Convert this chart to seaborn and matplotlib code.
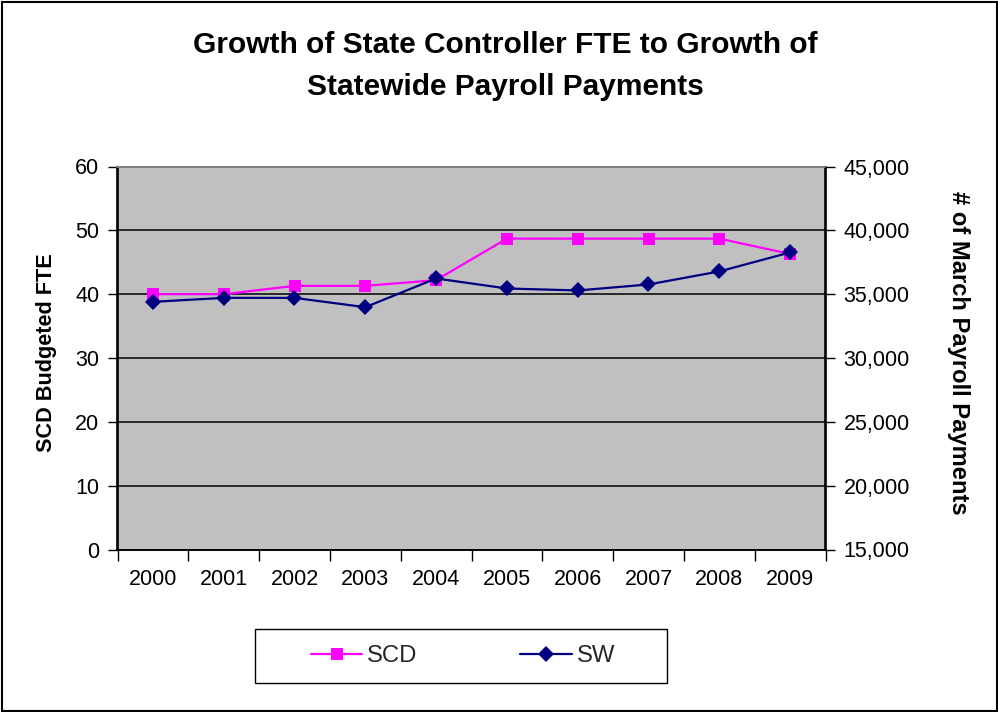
import matplotlib
matplotlib.use("Agg")
import matplotlib.pyplot as plt
from matplotlib.patches import Rectangle
from matplotlib.ticker import FixedLocator, FuncFormatter
from matplotlib.lines import Line2D
import seaborn as sns
import pandas as pd

years = ["2000", "2001", "2002", "2003", "2004", "2005", "2006", "2007", "2008", "2009"]
scd_fte = [40.0, 40.0, 41.3, 41.3, 42.2, 48.7, 48.7, 48.7, 48.7, 46.3]
sw_payments = [34400, 34710, 34710, 33980, 36230, 35445, 35290, 35760, 36780, 38270]

sns.set_theme(style="white")
plt.rcParams['font.family'] = ['Liberation Sans', 'DejaVu Sans']

df = pd.DataFrame({"year": years, "SCD": scd_fte, "SW": sw_payments})

W, H = 998, 712
fig = plt.figure(figsize=(W / 100, H / 100), dpi=100)
fig.patch.set_facecolor("white")

x0, x1, y0, y1 = 117.5, 825.5, 166.5, 549.5
ax = fig.add_axes([x0 / W, 1 - y1 / H, (x1 - x0) / W, (y1 - y0) / H])
ax.set_facecolor("#C0C0C0")
ax2 = ax.twinx()

magenta = "#FF00FF"
navy = "#000080"

sns.lineplot(data=df, x="year", y="SCD", ax=ax, color=magenta, marker="s",
             markersize=8.2, markeredgewidth=0, linewidth=1.6, sort=False, zorder=3)
sns.lineplot(data=df, x="year", y="SW", ax=ax2, color=navy, marker="D",
             markersize=8.5, markeredgewidth=0, linewidth=1.6, sort=False, zorder=3)

ax.set_xlim(-0.5, len(years) - 0.5)
ax.set_ylim(0, 60)
ax2.set_ylim(15000, 45000)
ax.set_yticks([0, 10, 20, 30, 40, 50, 60])
ax2.set_yticks([15000, 20000, 25000, 30000, 35000, 40000, 45000])
ax2.yaxis.set_major_formatter(FuncFormatter(lambda v, p: f"{int(v):,}"))

ax.yaxis.grid(True, color="black", linewidth=1.1)
ax.xaxis.grid(False)
ax2.grid(False)
ax.set_axisbelow(True)

ax.xaxis.set_minor_locator(FixedLocator([i - 0.5 for i in range(len(years) + 1)]))
ax.tick_params(axis="x", which="major", length=0, pad=14, labelsize=15.5, colors="black")
ax.tick_params(axis="x", which="minor", length=8, width=1, color="black", direction="out", bottom=True)
ax.tick_params(axis="y", which="major", length=7, width=1, color="black", direction="out",
               left=True, labelsize=15.5, labelcolor="black", pad=6)
ax2.tick_params(axis="y", which="major", length=7, width=1, color="black", direction="out",
                right=True, labelsize=15.5, labelcolor="black", pad=6)

for a in (ax, ax2):
    for s in a.spines.values():
        s.set_visible(True)
        s.set_color("#808080")
        s.set_linewidth(1.2)
    a.spines["left"].set_color("black")
    a.spines["right"].set_color("black")
    a.spines["bottom"].set_color("black")

ax.set_xlabel("")
ax.set_ylabel("SCD Budgeted FTE", fontsize=15.6, fontweight="bold", color="black")
ax2.set_ylabel("# of March Payroll Payments", fontsize=17.1, fontweight="bold", color="black",
               rotation=270, va="bottom")
ax.yaxis.set_label_coords(-0.0855, 0.513)
ax2.yaxis.set_label_coords(1.172, 0.513)
if ax.get_legend():
    ax.get_legend().remove()

fig.text(505 / W, 1 - 45 / H, "Growth of State Controller FTE to Growth of", ha="center", va="center",
         fontsize=21.5, fontweight="bold", color="black")
fig.text(505 / W, 1 - 87 / H, "Statewide Payroll Payments", ha="center", va="center",
         fontsize=21.5, fontweight="bold", color="black")

# legend box
lx0, ly0, lx1, ly1 = 255, 629, 667, 683
fig.patches.append(Rectangle((lx0 / W, 1 - ly1 / H), (lx1 - lx0) / W, (ly1 - ly0) / H,
                             transform=fig.transFigure, fill=False, edgecolor="black", linewidth=1))
handles = [Line2D([], [], color=magenta, marker="s", markersize=8.5, markeredgewidth=0, linewidth=1.6),
           Line2D([], [], color=navy, marker="D", markersize=8.5, markeredgewidth=0, linewidth=1.6)]
fig.legend(handles, ["SCD", "SW"], loc="center", bbox_to_anchor=(463 / W, 1 - 656 / H), ncol=2,
           frameon=False, fontsize=17.2, handlelength=2.15, handletextpad=0.2, columnspacing=4.3)

# outer border
fig.patches.append(Rectangle((1.5 / W, 1.5 / H), (W - 3) / W, (H - 3) / H, transform=fig.transFigure,
                             fill=False, edgecolor="black", linewidth=1.5))

fig.savefig("out.png", dpi=100, facecolor="white")
